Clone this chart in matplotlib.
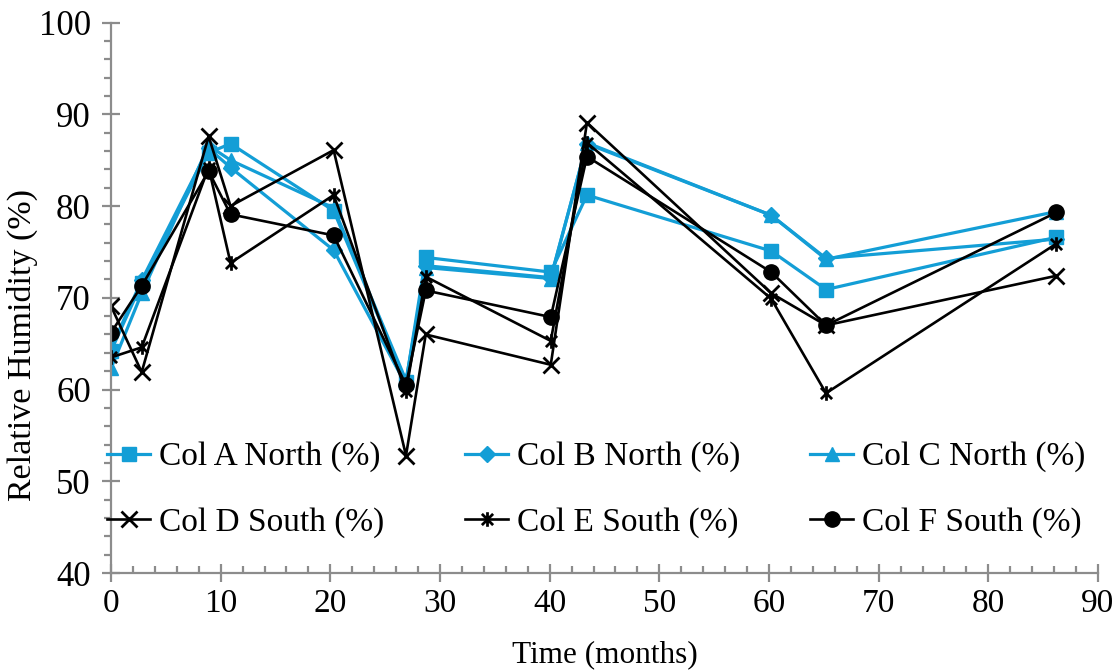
import matplotlib
matplotlib.use("Agg")
import matplotlib.pyplot as plt
from matplotlib.path import Path
from matplotlib.legend import Legend
from matplotlib.ticker import MultipleLocator

plt.rcParams['font.family'] = ['Liberation Serif', 'DejaVu Serif']
plt.rcParams['font.size'] = 24

# ---- data ----
time_months = [0, 2.8, 8.9, 10.9, 20.3, 26.9, 28.7, 40.1, 43.4, 60.2, 65.2, 86.2]
col_a_north = [64.2, 71.6, 85.8, 86.8, 79.5, 60.8, 74.4, 72.8, 81.2, 75.1, 70.9, 76.6]
col_b_north = [64.5, 71.9, 86.3, 84.2, 75.2, 60.5, 73.5, 72.2, 86.8, 79.0, 74.3, 76.4]
col_c_north = [62.3, 70.5, 86.6, 85.0, 79.8, 61.0, 73.3, 72.1, 86.9, 79.0, 74.2, 79.4]
col_d_south = [69.1, 61.9, 87.6, 80.0, 86.1, 52.8, 66.0, 62.7, 89.1, 70.5, 67.0, 72.4]
col_e_south = [63.5, 64.6, 84.2, 73.8, 81.2, 59.8, 72.3, 65.3, 86.9, 69.9, 59.6, 75.9]
col_f_south = [66.2, 71.3, 83.8, 79.1, 76.8, 60.5, 70.8, 67.9, 85.4, 72.8, 67.0, 79.3]
labels = ["Col A North (%)", "Col B North (%)", "Col C North (%)",
          "Col D South (%)", "Col E South (%)", "Col F South (%)"]

BLUE = '#139ED6'
GRAY = '#8C8C8C'

# Excel-style star (x with vertical bar)
star = Path([(-1, -1), (1, 1), (-1, 1), (1, -1), (0, -1.3), (0, 1.3)],
            [Path.MOVETO, Path.LINETO, Path.MOVETO, Path.LINETO, Path.MOVETO, Path.LINETO])

fig = plt.figure(figsize=(11.14, 6.71), dpi=100)
ax = fig.add_axes([111/1114, 1 - 573/671, (1098-111)/1114, (573-22.6)/671])

h = []
h += ax.plot(time_months, col_a_north, color=BLUE, lw=2.3, marker='s', ms=10,
             mfc=BLUE, mec=BLUE, label=labels[0])
h += ax.plot(time_months, col_b_north, color=BLUE, lw=2.3, marker='D', ms=8.5,
             mfc=BLUE, mec=BLUE, label=labels[1])
h += ax.plot(time_months, col_c_north, color=BLUE, lw=2.3, marker='^', ms=10.5,
             mfc=BLUE, mec=BLUE, label=labels[2])
h += ax.plot(time_months, col_d_south, color='black', lw=1.9, marker='x', ms=11,
             mew=2.0, label=labels[3])
h += ax.plot(time_months, col_e_south, color='black', lw=1.9, marker=star, ms=10.5,
             mew=2.0, label=labels[4])
h += ax.plot(time_months, col_f_south, color='black', lw=1.9, marker='o', ms=11,
             mfc='black', mec='black', label=labels[5])

ax.set_xlim(0, 90)
ax.set_ylim(40, 100)
ax.xaxis.set_major_locator(MultipleLocator(10))
ax.xaxis.set_minor_locator(MultipleLocator(2))
ax.yaxis.set_major_locator(MultipleLocator(10))
ax.yaxis.set_minor_locator(MultipleLocator(2))

for s in ['top', 'right']:
    ax.spines[s].set_visible(False)
for s in ['left', 'bottom']:
    ax.spines[s].set_color(GRAY)
    ax.spines[s].set_linewidth(1.6)

ax.tick_params(axis='both', which='major', direction='inout', length=13,
               width=1.6, color=GRAY)
ax.tick_params(axis='y', which='major', labelsize=25, pad=8)
ax.tick_params(axis='x', which='major', labelsize=24, pad=5)
ax.tick_params(axis='y', which='minor', direction='out', length=5, width=1.6, color=GRAY)
ax.tick_params(axis='x', which='minor', direction='in', length=5, width=1.6, color=GRAY)

ax.set_xlabel("Time (months)", fontsize=22.5)
ax.set_ylabel("Relative Humidity (%)", fontsize=24.5)
ax.xaxis.set_label_coords(0.5, (573 - 655) / 550.4, transform=ax.transAxes)
ax.yaxis.set_label_coords((22 - 111) / 987, (573 - 345) / 550.4, transform=ax.transAxes)
ax.xaxis.label.set_va('center')
ax.yaxis.label.set_va('center')

# legend: three columns placed individually, row-wise order
col_x = [(107 - 111) / 987, (465 - 111) / 987, (810 - 111) / 987]
mid_y = (573 - 490) / 550.4
for i, x0 in enumerate(col_x):
    lg = Legend(ax, [h[i], h[i + 3]], [labels[i], labels[i + 3]],
                loc='center left', bbox_to_anchor=(x0, mid_y),
                bbox_transform=ax.transAxes,
                frameon=False, fontsize=24, handlelength=1.3,
                handletextpad=0.25, labelspacing=1.05,
                borderaxespad=0, borderpad=0)
    ax.add_artist(lg)

fig.savefig("out.png", dpi=100)
